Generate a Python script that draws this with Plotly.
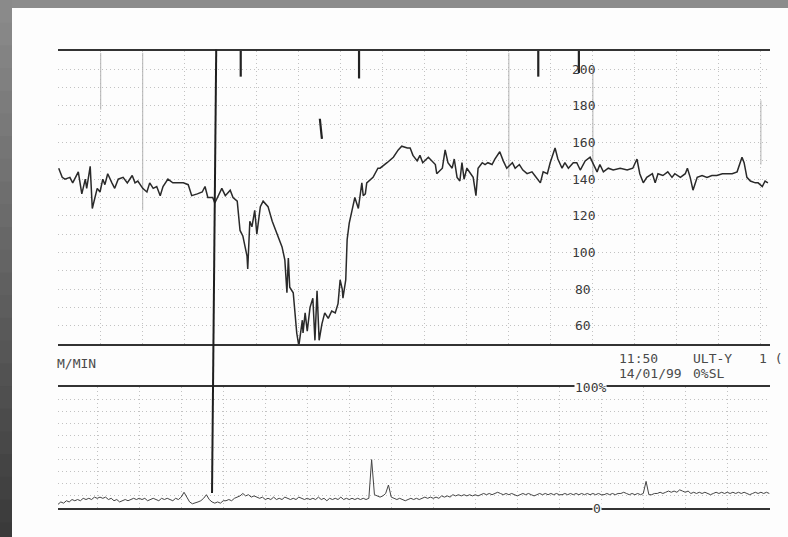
import plotly.graph_objects as go

# ---------------- DATA ----------------
# Fetal heart rate (bpm); time in seconds from the left edge
fhr_time = [1, 6, 10, 17, 21, 29, 34, 39, 41, 46, 49, 51, 56, 60, 64, 67, 71, 77, 81, 86,
            93, 99, 106, 110, 114, 121, 127, 131, 136, 141, 146, 150, 157, 164, 171, 179, 186, 191, 199, 206,
            210, 214, 221, 224, 234, 239, 246, 250, 256, 260, 264, 270, 271, 274, 277, 279, 281, 284, 289, 293,
            300, 306, 313, 320, 324, 327, 329, 331, 336, 339, 341, 344, 349, 350, 353, 356, 360, 364, 367, 370,
            373, 377, 381, 386, 391, 396, 400, 403, 406, 407, 411, 413, 416, 420, 424, 429, 434, 436, 439, 441,
            450, 457, 460, 470, 479, 486, 491, 499, 503, 507, 513, 517, 521, 529, 534, 539, 541, 549, 553, 557,
            563, 566, 570, 574, 577, 580, 584, 589, 593, 597, 600, 606, 610, 614, 620, 624, 631, 636, 641, 649,
            653, 659, 664, 670, 677, 681, 689, 693, 699, 703, 710, 714, 720, 724, 729, 736, 741, 746, 753, 760,
            764, 770, 774, 779, 786, 793, 803, 813, 821, 827, 831, 836, 841, 849, 853, 857, 864, 871, 877, 881,
            889, 896, 899, 903, 907, 913, 920, 927, 934, 941, 949, 956, 963, 970, 973, 977, 980, 984, 989, 996,
            1000, 1006, 1010, 1014]
fhr_bpm = [146, 141, 140, 141, 138, 144, 132, 140, 135, 147, 124, 127, 135, 133, 140, 137, 143, 138, 135, 140,
           141, 138, 142, 138, 139, 135, 133, 138, 135, 136, 131, 136, 140, 138, 138, 138, 137, 131, 132, 133,
           136, 130, 130, 127, 135, 131, 134, 130, 128, 112, 109, 98, 91, 117, 114, 119, 123, 110, 125, 128,
           125, 117, 110, 103, 96, 78, 97, 81, 78, 63, 56, 49, 63, 56, 67, 57, 70, 75, 52, 79,
           52, 61, 67, 64, 68, 67, 72, 85, 80, 75, 85, 107, 116, 123, 130, 124, 138, 131, 132, 138,
           141, 146, 146, 149, 152, 156, 158, 157, 157, 153, 150, 153, 149, 152, 150, 148, 143, 146, 156, 149,
           146, 151, 141, 139, 149, 140, 146, 143, 141, 131, 146, 149, 148, 149, 148, 151, 155, 150, 146, 149,
           146, 148, 145, 143, 144, 142, 138, 144, 143, 149, 157, 151, 146, 149, 146, 149, 149, 145, 150, 152,
           149, 144, 148, 144, 146, 145, 146, 145, 146, 151, 143, 138, 141, 143, 138, 143, 142, 144, 141, 143,
           141, 143, 146, 141, 134, 141, 142, 141, 142, 142, 143, 143, 143, 144, 148, 152, 149, 141, 139, 138,
           138, 136, 139, 138]

# Uterine activity (%) sampled every 4 s
toco_step = 4
toco_pct = [3, 5, 4, 6, 5, 7, 6, 7, 6, 8, 7, 8, 7, 9, 8,
            9, 8, 9, 7, 8, 6, 7, 5, 6, 7, 6, 7, 8, 7, 8,
            7, 8, 6, 7, 8, 7, 6, 8, 7, 8, 7, 6, 8, 7, 9,
            13, 9, 5, 3.5, 4, 5, 6, 8, 11, 7, 5, 4, 5, 4, 6,
            6, 7, 6, 8, 9, 10, 12, 10, 11, 9, 10, 9, 8, 9, 7,
            8, 7, 9, 7, 8, 7, 9, 8, 7, 8, 7, 9, 8, 7, 8,
            7, 8, 7, 9, 7, 8, 6, 8, 7, 8, 7, 9, 7, 8, 7,
            8, 7, 8, 7, 8, 7, 8, 40, 11, 10, 9, 10, 12, 19, 9,
            8, 7, 8, 7, 6, 7, 8, 7, 8, 7, 8, 9, 8, 9, 8,
            9, 8, 10, 9, 10, 9, 11, 10, 11, 10, 11, 10, 11, 10, 11,
            10, 11, 12, 11, 12, 11, 12, 13, 12, 11, 12, 11, 12, 11, 10,
            11, 12, 11, 12, 11, 10, 11, 12, 11, 12, 11, 12, 11, 12, 11,
            11, 12, 11, 12, 11, 12, 11, 12, 11, 12, 11, 12, 11, 12, 11,
            11, 12, 11, 12, 11, 12, 12, 13, 12, 11, 12, 11, 12, 11, 12,
            22, 11, 11, 12, 12, 13, 12, 13, 14, 13, 14, 13, 15, 14, 13,
            14, 12, 13, 12, 13, 12, 13, 12, 11, 12, 13, 12, 13, 12, 13,
            12, 13, 12, 13, 12, 13, 12, 11, 12, 13, 12, 13, 12, 13, 12]
toco_time = [i * toco_step for i in range(len(toco_pct))]

# Event line and movement marks
event_time = 224
mark_time = [261, 430, 686, 744]
mark_low = [196, 195, 196, 198]
stray_mark_time = [374, 377]
stray_mark_bpm = [173, 162]

# Axis ranges / labels
fhr_range = [50, 210]
fhr_labels = [60, 80, 100, 120, 140, 160, 180, 200]
toco_range = [0, 100]
x_range = [0, 1017]
grid_top = [61, 121, 181, 284, 344, 404, 464, 524, 584, 644, 704, 764, 824, 884, 944, 1004]
grid_bottom = [57, 117, 177, 237, 297, 357, 417, 477, 537, 597, 657, 717, 777, 837, 897, 957, 1017]
label_time = 750
# printed (solid) portions of the paper's minute lines in the FHR panel
solid_grid_time = [61, 121, 644, 764, 1004]
solid_grid_top = [209, 209, 209, 200, 183]
solid_grid_bottom = [178, 123, 141, 140, 148]

# ---------------- FIGURE ----------------
INK = "#333333"
GRID = "#c2c2c2"
GDASH = "1px,3px"
MONO = "DejaVu Sans Mono"
PAPER = "#fdfdfd"

fig = go.Figure()

# solid grid fragments (faint)
gx, gy = [], []
for t, a, b in zip(solid_grid_time, solid_grid_top, solid_grid_bottom):
    gx += [t, t, None]
    gy += [a, b, None]
fig.add_trace(go.Scatter(x=gx, y=gy, mode="lines", line=dict(color="#b3b3b3", width=1),
                         xaxis="x", yaxis="y", hoverinfo="skip"))

fig.add_trace(go.Scatter(x=fhr_time, y=fhr_bpm, mode="lines",
                         line=dict(color="#2a2a2a", width=1.5), xaxis="x", yaxis="y",
                         hoverinfo="skip"))
fig.add_trace(go.Scatter(x=toco_time, y=toco_pct, mode="lines",
                         line=dict(color="#444444", width=1), xaxis="x2", yaxis="y2",
                         hoverinfo="skip"))

# movement marks at the top
mx, my = [], []
for t, lo in zip(mark_time, mark_low):
    mx += [t, t, None]
    my += [fhr_range[1], lo, None]
mx += stray_mark_time
my += stray_mark_bpm
fig.add_trace(go.Scatter(x=mx, y=my, mode="lines", line=dict(color="#222222", width=2.2),
                         xaxis="x", yaxis="y", hoverinfo="skip"))

top_dom = [(508 - 344) / 457, 1]
bot_dom = [0, (508 - 387) / 457]

grid_common = dict(showgrid=True, gridcolor=GRID, griddash=GDASH, gridwidth=1,
                   showticklabels=False, ticks="", zeroline=False)

fig.update_layout(
    width=788, height=537,
    margin=dict(l=58, r=18, t=51, b=29),
    paper_bgcolor=PAPER, plot_bgcolor="rgba(0,0,0,0)",
    showlegend=False,
    xaxis=dict(domain=[0, 1], range=x_range, anchor="y",
               tickmode="array", tickvals=grid_top,
               showline=True, mirror=True, linecolor=INK, linewidth=1.6, **grid_common),
    yaxis=dict(domain=top_dom, range=fhr_range,
               tickmode="linear", tick0=50, dtick=10, showline=False, **grid_common),
    xaxis2=dict(domain=[0, 1], range=x_range, anchor="y2", matches="x",
                tickmode="array", tickvals=grid_bottom,
                showline=True, mirror=True, linecolor=INK, linewidth=1.6, **grid_common),
    yaxis2=dict(domain=bot_dom, range=toco_range,
                tickmode="linear", tick0=0, dtick=10, showline=False, **grid_common),
)

ann = []
for v in fhr_labels:
    ann.append(dict(x=label_time, y=v, xref="x", yref="y", text=str(v), showarrow=False,
                    font=dict(family=MONO, size=13, color="#3a3a3a")))
ann.append(dict(x=760, y=100, xref="x2", yref="y2", text="100%", showarrow=False,
                bgcolor=PAPER, borderpad=0, font=dict(family=MONO, size=13, color="#3a3a3a")))
ann.append(dict(x=770, y=0, xref="x2", yref="y2", text="0", showarrow=False,
                bgcolor=PAPER, borderpad=0, font=dict(family=MONO, size=13, color="#3a3a3a")))


def px(xp):
    return (xp - 58) / 712


def py(yp):
    return (508 - yp) / 457


texts = [("M/MIN", 55, 363), ("11:50", 617, 358), ("14/01/99", 617, 373),
         ("ULT-Y", 691, 358), ("0%SL", 691, 373), ("1 (", 757, 358)]
for s, x0, y0 in texts:
    ann.append(dict(x=px(x0), y=py(y0), xref="paper", yref="paper", text=s, showarrow=False,
                    xanchor="left", yanchor="middle",
                    font=dict(family=MONO, size=13, color="#4a4a4a")))
fig.update_layout(annotations=ann)

shapes = []
# event line through both panels
shapes.append(dict(type="line", xref="x", yref="paper", x0=event_time + 2, x1=event_time - 4,
                   y0=1.003, y1=py(493), line=dict(color="#1e1e1e", width=2)))

# grey scan border: top strip and left strip with a vertical gradient
shapes.append(dict(type="rect", xref="paper", yref="paper", x0=px(-5), x1=px(800),
                   y0=py(8), y1=py(-5), fillcolor="#8c8c8c", line=dict(width=0), layer="below"))
n = 24
top_c, bot_c = (0x8a, 0x8a, 0x8a), (0x3a, 0x3a, 0x3a)
for i in range(n):
    f = i / (n - 1)
    c = tuple(int(round(a + (b - a) * f)) for a, b in zip(top_c, bot_c))
    y_top = 0 + i * 545 / n
    y_bot = 0 + (i + 1) * 545 / n
    shapes.append(dict(type="rect", xref="paper", yref="paper", x0=px(-5), x1=px(12),
                       y0=py(y_bot + 1), y1=py(y_top), fillcolor="rgb(%d,%d,%d)" % c,
                       line=dict(width=0), layer="below"))
fig.update_layout(shapes=shapes)

fig.write_html("out.html", config={"displayModeBar": False},
               post_script="document.body.style.margin='0';document.body.style.overflow='hidden';")
